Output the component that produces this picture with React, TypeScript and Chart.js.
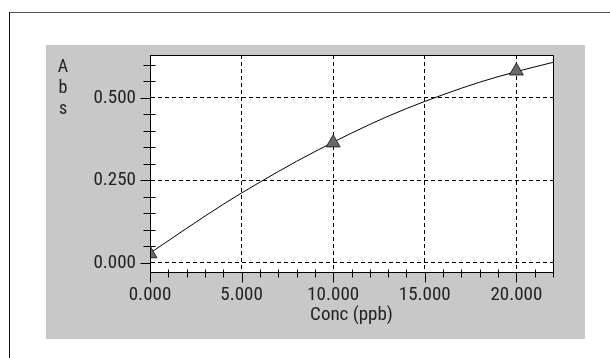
import React, { useEffect, useRef } from "react";
import { Chart, registerables } from "chart.js";

Chart.register(...registerables);

// ---- data ----
const curveX = [0, 2, 4, 6, 8, 10, 12, 14, 16, 18, 20, 22];
const curveY = [0.03, 0.105, 0.178, 0.245, 0.308, 0.366, 0.42, 0.468, 0.51, 0.548, 0.58, 0.608];
const stdX = [0, 10, 20];
const stdY = [0.028, 0.364, 0.582];

const xMajorTicks = [0, 5, 10, 15, 20];
const xTickLabels = ["0.000", "5.000", "10.000", "15.000", "20.000"];
const yMajorTicks = [0, 0.25, 0.5];
const yTickLabels = ["0.000", "0.250", "0.500"];
const xMinorTicks = [1, 2, 3, 4, 6, 7, 8, 9, 11, 12, 13, 14, 16, 17, 18, 19, 21, 22];
const yMinorTicks = [0.05, 0.1, 0.15, 0.2, 0.3, 0.35, 0.4, 0.45, 0.55, 0.6];

const xTitle = "Conc (ppb)";
const yTitleLetters = ["A", "b", "s"];

const FONT = "'Roboto Condensed', 'DejaVu Sans Condensed', sans-serif";
const TEXT = "#222";

const framePlugin = {
  id: "framePlugin",
  beforeDraw(chart: any) {
    const { ctx, chartArea: a } = chart;
    ctx.save();
    ctx.fillStyle = "#ffffff";
    ctx.fillRect(a.left, a.top, a.right - a.left, a.bottom - a.top);
    ctx.restore();
  },
  afterDraw(chart: any) {
    const { ctx, chartArea: a, scales } = chart;
    const xs = scales.x;
    const ys = scales.y;
    const L = Math.round(a.left) + 0.5;
    const R = Math.round(a.right) + 0.5;
    const T = Math.round(a.top) + 0.5;
    const B = Math.round(a.bottom) + 0.5;
    ctx.save();
    ctx.strokeStyle = "#000";
    ctx.lineWidth = 1;
    ctx.setLineDash([]);
    ctx.beginPath();
    ctx.rect(L, T, R - L, B - T);
    yMajorTicks.forEach((v) => {
      const y = Math.round(ys.getPixelForValue(v)) + 0.5;
      ctx.moveTo(L - 10, y);
      ctx.lineTo(L, y);
    });
    yMinorTicks.forEach((v) => {
      const y = Math.round(ys.getPixelForValue(v)) + 0.5;
      ctx.moveTo(L - 7, y);
      ctx.lineTo(L + 5, y);
    });
    xMajorTicks.forEach((v) => {
      const x = Math.round(xs.getPixelForValue(v)) + 0.5;
      ctx.moveTo(x, B);
      ctx.lineTo(x, B + 10);
    });
    xMinorTicks.forEach((v) => {
      const x = Math.round(xs.getPixelForValue(v)) + 0.5;
      ctx.moveTo(x, B - 3);
      ctx.lineTo(x, B + 5);
    });
    ctx.stroke();

    ctx.fillStyle = TEXT;
    ctx.font = `18px ${FONT}`;
    ctx.textAlign = "center";
    ctx.textBaseline = "alphabetic";
    const offs = [17, 38, 59];
    yTitleLetters.forEach((t, i) => {
      ctx.fillText(t, a.left - 87, a.top + offs[i]);
    });
    ctx.restore();
  },
};

export default function App() {
  const canvasRef = useRef<HTMLCanvasElement | null>(null);

  useEffect(() => {
    if (!canvasRef.current) return;
    const chart = new Chart(canvasRef.current, {
      type: "scatter",
      data: {
        datasets: [
          {
            data: stdX.map((x, i) => ({ x, y: stdY[i] })),
            showLine: false,
            pointStyle: "triangle",
            pointRadius: 8,
            pointBackgroundColor: "#6a6a6a",
            pointBorderColor: "#2a2a2a",
            pointBorderWidth: 1,
            clip: 0,
          } as any,
          {
            data: curveX.map((x, i) => ({ x, y: curveY[i] })),
            showLine: true,
            borderColor: "#000",
            borderWidth: 1,
            pointRadius: 0,
            cubicInterpolationMode: "monotone",
            clip: 0,
          } as any,
        ],
      },
      options: {
        animation: false,
        responsive: false,
        maintainAspectRatio: false,
        layout: { padding: { left: 0, top: 10, right: 32, bottom: 0 } },
        plugins: {
          legend: { display: false },
          tooltip: { enabled: false },
        },
        scales: {
          x: {
            type: "linear",
            min: 0,
            max: 22,
            afterBuildTicks: (s: any) => {
              s.ticks = xMajorTicks.map((v) => ({ value: v }));
            },
            afterFit: (s: any) => {
              s.height = 67;
              s.paddingLeft = 0;
              s.paddingRight = 0;
            },
            ticks: {
              autoSkip: false,
              maxRotation: 0,
              padding: 12,
              color: TEXT,
              font: { family: FONT, size: 19 },
              callback: (v: any) => xTickLabels[xMajorTicks.indexOf(Number(v))],
            },
            grid: { color: "#000", lineWidth: 1, drawTicks: false },
            border: { display: true, color: "#000", width: 1, dash: [4, 3] },
            title: {
              display: true,
              text: xTitle,
              color: TEXT,
              font: { family: FONT, size: 19 },
              padding: { top: 0, bottom: 12 },
            },
          },
          y: {
            type: "linear",
            min: -0.0273,
            max: 0.6303,
            afterBuildTicks: (s: any) => {
              s.ticks = yMajorTicks.map((v) => ({ value: v }));
            },
            afterFit: (s: any) => {
              s.width = 104;
              s.paddingTop = 0;
              s.paddingBottom = 0;
            },
            ticks: {
              autoSkip: false,
              padding: 14,
              color: TEXT,
              font: { family: FONT, size: 19 },
              callback: (v: any) => yTickLabels[yMajorTicks.indexOf(Number(v))],
            },
            grid: { color: "#000", lineWidth: 1, drawTicks: false },
            border: { display: true, color: "#000", width: 1, dash: [4, 3] },
          },
        },
      } as any,
      plugins: [framePlugin],
    });
    return () => chart.destroy();
  }, []);

  return (
    <div
      style={{
        position: "fixed",
        left: 0,
        top: 0,
        width: 610,
        height: 358,
        background: "#ffffff",
        overflow: "hidden",
      }}
    >
      <div style={{ position: "absolute", left: 9, top: 12, width: 601, height: 1, background: "#555" }} />
      <div style={{ position: "absolute", left: 9, top: 12, width: 1, height: 346, background: "#111" }} />
      <div
        style={{
          position: "absolute",
          left: 46,
          top: 45,
          width: 539,
          height: 294,
          background: "#c8c8c8",
        }}
      >
        <canvas ref={canvasRef} width={539} height={294} style={{ display: "block", width: 539, height: 294 }} />
      </div>
    </div>
  );
}
